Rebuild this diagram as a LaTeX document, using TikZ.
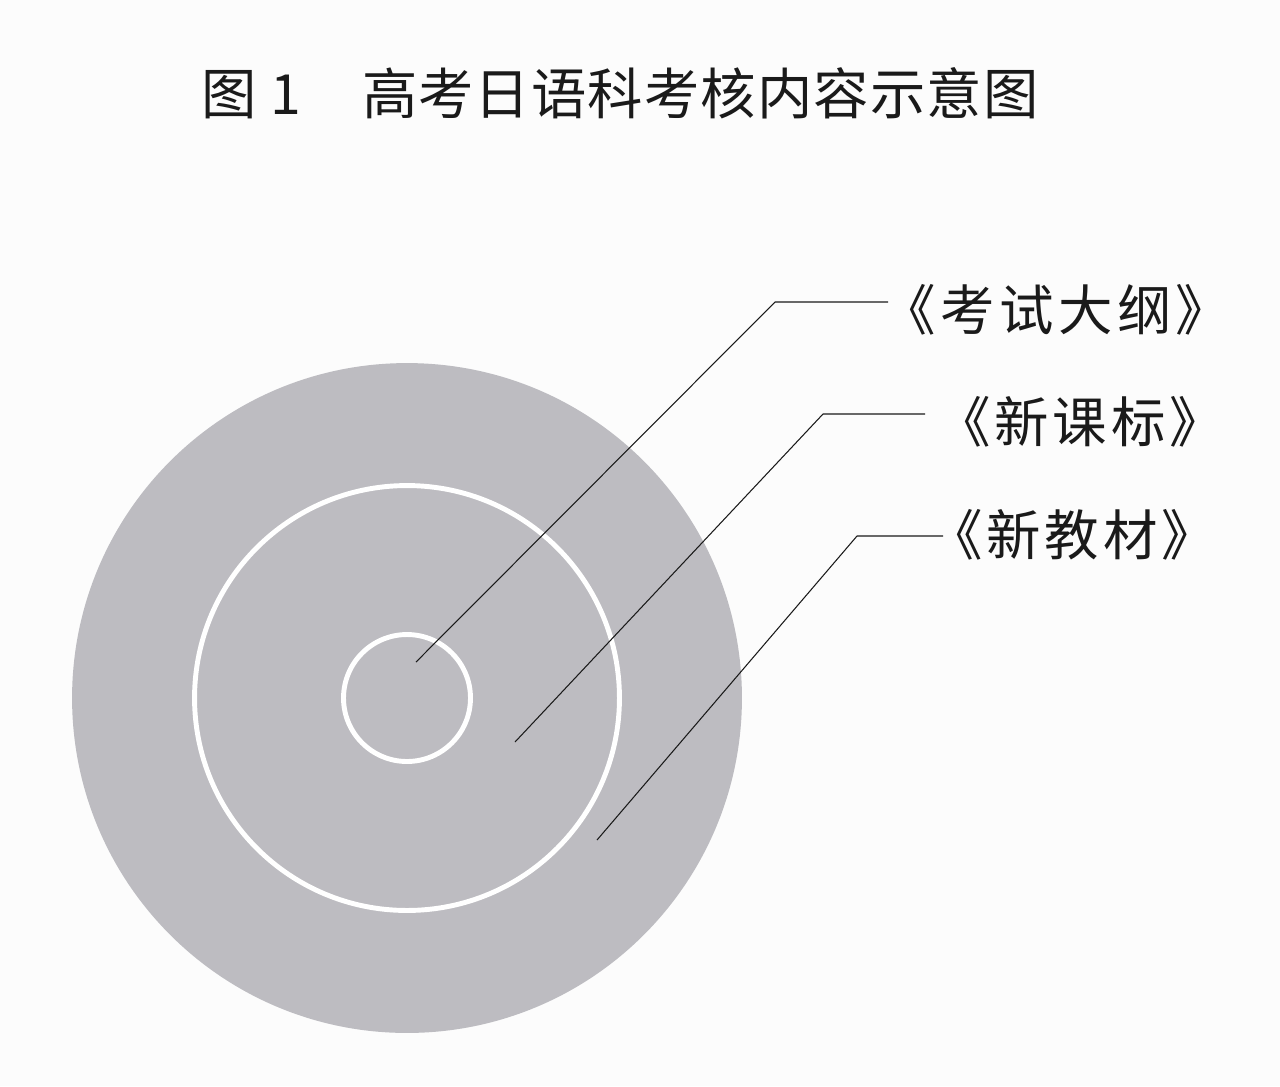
\documentclass[tikz,border=0pt]{standalone}
\usepackage{fontspec}
\setmainfont{Noto Sans CJK SC}
\usepackage{xcolor}
\definecolor{paper}{HTML}{FCFCFC}
\definecolor{discgray}{HTML}{BDBCC1}
\definecolor{ink}{HTML}{1A1A1A}

\begin{document}
\begin{tikzpicture}[x=0.02cm, y=-0.02cm]
			\fill[paper] (0,0) rectangle (1280,1086);
			\coordinate (centre) at (407,698);
			\fill[discgray] (centre) circle [radius=6.7cm];
			\draw[white, line width=2.8pt] (centre) circle [radius=4.25cm]
				(centre) circle [radius=1.27cm];
			\node (title) at (620,93) [ink, font=\fontsize{31.5}{31.5}\selectfont\addfontfeature{LetterSpace=2}] {图 1\hspace{1.1em}高考日语科考核内容示意图};
			\coordinate (outline) at (416,662);
			\coordinate (outline bend) at (775,302);
			\coordinate (outline end) at (888,302);
			\coordinate (standard) at (515,742);
			\coordinate (standard bend) at (823,414);
			\coordinate (standard end) at (925,414);
			\coordinate (textbook) at (597,840);
			\coordinate (textbook bend) at (857,536);
			\coordinate (textbook end) at (943,536);
			\draw node (outline label) at (1056,310) [ink, inner sep=0pt, font=\fontsize{31}{31}\selectfont\addfontfeature{LetterSpace=8}] {《考试大纲》}
				node (standard label) at (1080,422) [ink, inner sep=0pt, font=\fontsize{31}{31}\selectfont\addfontfeature{LetterSpace=7}] {《新课标》}
				node (textbook label) at (1072,535) [ink, inner sep=0pt, font=\fontsize{31}{31}\selectfont\addfontfeature{LetterSpace=7}] {《新教材》};
			\draw[ink, line width=0.6pt] (outline) -- (outline bend) -- (outline end) (standard) -- (standard bend) -- (standard end) (textbook) -- (textbook bend) -- (textbook end);
		\end{tikzpicture}
\end{document}
